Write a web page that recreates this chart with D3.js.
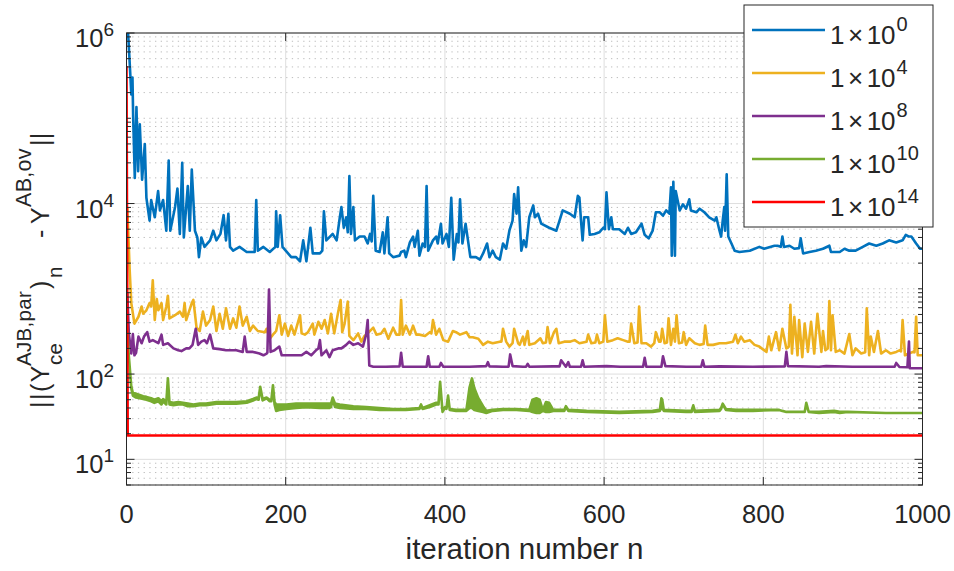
<!DOCTYPE html>
<html>
<head>
<meta charset="utf-8">
<script src="https://cdn.jsdelivr.net/npm/d3@7"></script>
<style>
  html, body { margin: 0; padding: 0; background: #fff; }
  text { font-family: "Liberation Sans", Arial, Helvetica, sans-serif; fill: #262626; }
</style>
</head>
<body>
<div id="chart"></div>
<script>
// values: [iteration n, norm]
const blue = [[1,1e6],[2,1e6],[5,3.0e5],[6,1.9e5],[7.5,3.0e5],[8.4,1.02e5],[10.4,2.0e4],[12.5,1.35e5],[14.6,2.4e4],[16.7,8.5e4],[19.6,1.9e4],[23,5.0e4],[25,1.17e4],[29,6.3e3],[31,1.1e4],[35.5,6.9e3],[39.7,1.4e4],[42,8.3e3],[46,1.1e4],[50,4.8e3],[53,3.2e4],[55,4.8e3],[61,9.1e3],[64,1.5e4],[67,4.4e3],[70,3.0e4],[72,4.0e3],[77,1.6e4],[79.5,4.8e3],[82,2.5e4],[86,4.8e3],[89,4.0e3],[91,2.35e3],[94,4.0e3],[98,3.1e3],[105,3.7e3],[109,4.8e3],[113,3.7e3],[118,4.4e3],[122,7.3e3],[125,3.7e3],[128,7.6e3],[130,3.1e3],[134,2.8e3],[142,3.1e3],[151,2.7e3],[161,2.7e3],[163,1.1e4],[165,2.8e3],[172,3.1e3],[180,2.7e3],[187,3.1e3],[188,8.1e3],[190,3.1e3],[193,7.3e3],[196,3.1e3],[207,2.35e3],[213,2.35e3],[218,2.1e3],[222,3.7e3],[226,2.1e3],[231,5.2e3],[234,2.6e3],[243,2.6e3],[246,2.8e3],[248,8.1e3],[251,3.7e3],[259,4.4e3],[264,3.7e3],[268,6.9e3],[270,9.1e3],[273,5.2e3],[276,6.9e3],[278,4.6e3],[280,2.1e4],[282,4.4e3],[285,9.1e3],[287,3.7e3],[293,4.1e3],[299,4.1e3],[303,3.4e3],[306,4.4e3],[308,3.6e3],[310,1.23e4],[313,2.8e3],[318,2.7e3],
  [322,4.6e3],[324,2.6e3],[328,6.9e3],[330,2.6e3],[335,2.35e3],[343,2.45e3],[345,2.7e3],[349,2.8e3],[351,2.35e3],[356,3.5e3],[360,4.1e3],[362,3.1e3],[366,4.8e3],[368,2.45e3],[372,3.4e3],[375,3.1e3],[377,1.6e4],[379,2.8e3],[385,3.7e3],[389,4.1e3],[391,3.4e3],[395,5.8e3],[397,3.4e3],[402,4.4e3],[405,3.1e3],[408,1.17e4],[411,2.2e3],[415,4.4e3],[417,3.5e3],[419,1.12e4],[422,3.4e3],[426,5.8e3],[429,3.7e3],[432,2.35e3],[439,2.35e3],[444,2.2e3],[448,2.6e3],[453,3.4e3],[456,2.35e3],[460,2.8e3],[464,2.35e3],[469,2.2e3],[473,3.4e3],[477,2.95e3],[481,4.8e3],[485,6.3e3],[487,1.29e4],[490,7.6e3],[492,1.55e4],[494,6.3e3],[496,2.8e3],[499,3.7e3],[502,3.1e3],[506,6.9e3],[511,9.5e3],[513,6.9e3],[517,7.6e3],[521,5.8e3],[531,5.2e3],[540,4.8e3],[544,6.3e3],[548,8.3e3],[557,7.6e3],[563,6.9e3],[567,1.23e4],[569,1.17e4],[571,6.3e3],[573,3.7e3],[575,6.9e3],[580,6.9e3],[582,4.3e3],[588,4.4e3],[594,4.6e3],[599,5.2e3],[601,5.0e3],[603,1.35e4],[606,5.0e3],[609,6.9e3],[611,5.0e3],[619,5.0e3],[626,4.4e3],[630,5.2e3],[634,4.4e3],[640,4.6e3],[647,5.8e3],[651,4.3e3],[656,3.9e3],[661,4.8e3],[665,7.9e3],[670,7.9e3],
  [674,7.2e3],[678,8.3e3],[682,7.6e3],[684,1.55e4],[685,2.45e3],[687,1.8e4],[689,2.45e3],[690,1.4e4],[695,8.3e3],[699,9.8e3],[703,8.7e3],[707,1.12e4],[709,8.3e3],[716,7.9e3],[720,8.7e3],[726,7.9e3],[732,6.9e3],[739,6.3e3],[741,6.9e3],[745,4.8e3],[747,4.1e3],[749,6.3e3],[751,9.1e3],[752,4.8e3],[754,2.2e4],[756,4.1e3],[760,3.4e3],[764,2.8e3],[770,2.7e3],[783,2.8e3],[795,3.1e3],[801,2.95e3],[814,3.2e3],[818,3.2e3],[822,3.1e3],[824,4.1e3],[826,3.1e3],[833,3.2e3],[839,2.95e3],[845,3.0e3],[847,3.9e3],[850,2.6e3],[858,2.7e3],[866,2.8e3],[875,2.95e3],[883,3.2e3],[885,2.7e3],[896,2.7e3],[902,2.95e3],[908,2.8e3],[916,2.8e3],[925,3.1e3],[933,3.4e3],[942,3.2e3],[950,3.4e3],[958,3.7e3],[967,3.5e3],[975,3.7e3],[979,4.3e3],[983,4.1e3],[986,4.1e3],[992,3.4e3],[997,2.95e3],[1000,2.95e3]];

const orange = [[1,9e3],[4,1650],[6,680],[10,390],[15,470],[19,620],[21,510],[25,560],[29,680],[31,620],[33,1260],[35.5,430],[38,760],[40,560],[44,680],[46,430],[50,620],[52,830],[54,450],[61,490],[67,540],[71,470],[73,680],[75,430],[82,680],[84,740],[88,350],[92,320],[96,540],[100,370],[105,430],[109,620],[113,320],[117,510],[121,340],[125,590],[130,340],[134,450],[138,350],[142,620],[146,370],[151,470],[155,320],[159,370],[165,320],[174,310],[176,340],[180,260],[184,290],[188,320],[192,490],[195,290],[199,390],[203,280],[207,370],[211,290],[218,490],[220,300],[224,290],[228,310],[234,390],[236,290],[241,410],[245,340],[249,430],[253,300],[257,510],[261,300],[266,540],[269,740],[271,310],[274,390],[278,710],[280,280],[285,250],[291,300],[295,240],[299,280],[303,300],[310,350],[314,290],[320,300],[324,340],[329,260],[335,350],[339,290],[343,290],[345,740],[347,290],[351,370],[356,290],[360,370],[364,290],[368,290],[375,280],[381,310],[383,300],[385,430],[389,290],[393,340],[398,250],[404,240],[410,320],[414,310],[419,290],[427,310],[431,270],[435,270],[442,260],[448,220],[454,240],[460,230],[469,240],[471,240],[473,340],[477,240],[481,210],[485,230],[487,340],[492,230],
  [494,220],[498,275],[500,220],[504,320],[506,220],[513,230],[520,263],[523,230],[527,235],[529,355],[532,230],[537,310],[540,340],[543,230],[550,240],[557,240],[563,250],[569,230],[578,240],[580,290],[584,230],[589,235],[591,290],[594,230],[599,240],[601,490],[604,240],[611,250],[617,263],[624,250],[630,240],[632,240],[634,390],[638,230],[642,235],[644,620],[647,230],[653,230],[659,210],[663,230],[665,310],[669,240],[671,240],[673,340],[676,230],[679,235],[681,450],[684,220],[687,340],[689,240],[691,490],[694,230],[698,235],[700,310],[703,220],[707,263],[714,230],[720,220],[725,225],[727,370],[730,220],[737,220],[745,230],[753,230],[762,240],[765,290],[768,230],[772,275],[776,240],[783,250],[789,220],[795,210],[804,182],[807,275],[810,190],[816,310],[820,190],[824,340],[829,200],[832,210],[834,650],[836,174],[839,470],[843,166],[845,430],[849,158],[852,390],[856,182],[860,410],[864,174],[868,510],[873,182],[875,320],[878,190],[881,200],[883,720],[885,190],[887,490],[891,182],[896,190],[902,174],[908,295],[912,166],[916,200],[923,174],[928,180],[930,590],[933,166],[935,275],[939,182],[944,320],[948,174],[954,190],[960,174],[967,182],[971,190],[973,185],[975,430],[978,166],[983,174],[988,182],[990,180],[992,470],[994,166],[998,166],[1000,166]];

const purple = [[1,900],[3,295],[6,174],[8,295],[10,166],[12,178],[15,275],[19,230],[22,275],[26,310],[29,240],[33,250],[40,230],[44,290],[46,220],[52,230],[59,200],[65,190],[69,186],[75,200],[79,200],[83,220],[87,340],[90,220],[94,240],[98,250],[101,230],[105,290],[109,200],[117,196],[125,190],[138,190],[146,182],[148.5,275],[151,182],[159,182],[167,174],[172,166],[176,174],[177,178],[179,980],[181,182],[186,190],[192,210],[195,166],[201,166],[209,166],[220,166],[226,182],[232,166],[238,190],[241,200],[243,250],[245,166],[251,190],[255,158],[259,190],[266,200],[270,200],[276,220],[280,240],[285,220],[291,230],[297,210],[301,290],[303,430],[305,126],[310,122],[318,122],[326,122],[343,123],[345,178],[347,122],[360,122],[375,122],[377,122],[379,162],[381,122],[393,122],[395,135],[398,122],[410,122],[431,122],[452,124],[454,138],[456,123],[473,122],[480,122],[482,170],[485,124],[498,122],[502,122],[504,132],[506,122],[536,123],[544,123],[546,145],[552,122],[555,138],[557,122],[571,122],[573,145],[575,122],[603,124],[620,122],[649,122],[651,155],[653,122],[672,122],[674,162],[677,124],[703,122],[722,122],[724,145],[726,122],[745,123],[787,122],[827,123],[829,182],[831,124],[870,122],[879,124],[912,122],[965,122],[967,135],[971,121],[981,120],[983,240],[984,117],[1000,117]];

// green is a fast oscillation: [n, lower edge, upper edge]
const green = [[0,420,420],[3,160,160],[6,68,72],[8,56,60],[12,53,59],[21,51,55],[25,50,54],[31,48,52],[35,46,50],[40,48,52],[44,44,48],[46,48,51],[50,44,47],[52,88,89],[54,44,47],[59,43,46],[65,44,47],[71,44,46],[77,42,45],[84,42,44],[92,43,45],[100,43,45],[113,45,47],[125,45,47],[138,45,47],[151,46,48],[159,49,51],[163,51,53],[166,50,52],[168,70,71],[171,49,51],[176,52,53],[180,48,50],[182,48,50],[184,74,74],[186,44,47],[188,37,44],[192,38,44],[201,39,44],[213,40,45],[226,41,45],[243,40,45],[255,40,45],[257,41,45],[259,50,53],[262,41,45],[268,40,44],[285,39,42],[301,39,41],[318,38,40],[335,38,39],[351,38,39],[368,39,40],[370,43,44],[372,39,40],[381,41,43],[389,44,46],[392,44,46],[394,81,81],[397,36,37],[400,40,41],[402,39,40],[404,56,56],[406,38,39],[414,37,38],[427,37,38],[431,40,70],[434,40,89],[437,38,68],[442,37,52],[448,36,42],[452,35,37],[460,37,38],[473,38,39],[490,38,39],[506,37,38],[510,36,50],[515,35,52],[519,35,50],[523,37,38],[527,36,47],[531,36,46],[536,37,38],[544,37,38],[550,37,38],[552,41,42],[555,37,38],[578,36,37],[619,35,36],[661,36,37],[670,37,38],[672,40,52],[673,40,50],[675,37,38],[703,36,37],[710,36,37],[712,42,43],[714,36,37],[745,37,38],[747,39,40],[749,44,45],[753,38,39],[766,37,38],[787,37,38],[820,38,38],[824,37,37],[829,36,36],[852,36,36],[854,45,46],[857,36,36],[870,35,36],[889,36,37],[896,35,36],[906,36,36],[954,35,35],[1000,35,35]];

const red = [[0,4.1e5],[1.5,19],[1000,19]];

const xTicks = [0, 200, 400, 600, 800, 1000];
const yTicks = [1e1, 1e2, 1e4, 1e6];
const yTickExp = ["1", "2", "4", "6"];
const legendExp = ["0", "4", "8", "10", "14"];
const colors = ["#0072BD", "#EDB120", "#7E2F8E", "#77AC30", "#FF0000"];

const W = 954, H = 571;
const pLeft = 126.5, pRight = 922.5, pTop = 33, pBottom = 485;

const svg = d3.select("#chart").append("svg")
    .attr("width", W).attr("height", H);
svg.append("rect").attr("width", W).attr("height", H).attr("fill", "#fff");

let x = d3.scaleLinear().domain([0, 1000]).range([pLeft, pRight]);
let y = d3.scaleLog().domain([5, 1e6]).range([pBottom, pTop]);

// minor grid (dotted) on y
let minor = [];
for (let e = 0; e <= 5; e++) {
    for (let m = 1; m <= 9; m++) {
        let v = m * Math.pow(10, e);
        if (v < 5 || v > 1e6) continue;
        if (yTicks.indexOf(v) >= 0) continue;
        minor.push(v);
    }
}
svg.append("g").selectAll("line").data(minor).join("line")
    .attr("x1", pLeft).attr("x2", pRight)
    .attr("y1", d => y(d)).attr("y2", d => y(d))
    .attr("stroke", "#bdbdbd").attr("stroke-width", 1)
    .attr("stroke-dasharray", "1.3,4.4");

// major grid
svg.append("g").selectAll("line").data(yTicks).join("line")
    .attr("x1", pLeft).attr("x2", pRight)
    .attr("y1", d => y(d)).attr("y2", d => y(d))
    .attr("stroke", "#dedede").attr("stroke-width", 1);
svg.append("g").selectAll("line").data(xTicks).join("line")
    .attr("x1", d => x(d)).attr("x2", d => x(d))
    .attr("y1", pTop).attr("y2", pBottom)
    .attr("stroke", "#dedede").attr("stroke-width", 1);

// data
svg.append("clipPath").attr("id", "plotclip").append("rect")
    .attr("x", pLeft).attr("y", pTop).attr("width", pRight - pLeft).attr("height", pBottom - pTop);
let plot = svg.append("g").attr("clip-path", "url(#plotclip)");

let line = d3.line().x(d => x(d[0])).y(d => y(d[1]));
let lw = 2.6;

plot.append("path").attr("d", line(blue)).attr("fill", "none")
    .attr("stroke", colors[0]).attr("stroke-width", lw).attr("stroke-linejoin", "round");
plot.append("path").attr("d", line(orange)).attr("fill", "none")
    .attr("stroke", colors[1]).attr("stroke-width", lw).attr("stroke-linejoin", "round");
plot.append("path").attr("d", line(purple)).attr("fill", "none")
    .attr("stroke", colors[2]).attr("stroke-width", lw).attr("stroke-linejoin", "round");

let band = d3.area().x(d => x(d[0])).y0(d => y(d[1])).y1(d => y(d[2]));
plot.append("path").attr("d", band(green))
    .attr("fill", colors[3]).attr("stroke", colors[3])
    .attr("stroke-width", lw).attr("stroke-linejoin", "round");

plot.append("path").attr("d", line(red)).attr("fill", "none")
    .attr("stroke", colors[4]).attr("stroke-width", lw).attr("stroke-linejoin", "round");

// ticks (inward, mirrored)
let axisColor = "#262626";
let tk = svg.append("g").attr("stroke", axisColor).attr("stroke-width", 1);
xTicks.forEach(t => {
    tk.append("line").attr("x1", x(t)).attr("x2", x(t)).attr("y1", pBottom).attr("y2", pBottom - 8);
    tk.append("line").attr("x1", x(t)).attr("x2", x(t)).attr("y1", pTop).attr("y2", pTop + 8);
});
yTicks.forEach(t => {
    tk.append("line").attr("x1", pLeft).attr("x2", pLeft + 8).attr("y1", y(t)).attr("y2", y(t));
    tk.append("line").attr("x1", pRight).attr("x2", pRight - 8).attr("y1", y(t)).attr("y2", y(t));
});
minor.forEach(t => {
    tk.append("line").attr("x1", pLeft).attr("x2", pLeft + 4.5).attr("y1", y(t)).attr("y2", y(t));
    tk.append("line").attr("x1", pRight).attr("x2", pRight - 4.5).attr("y1", y(t)).attr("y2", y(t));
});

// box
svg.append("rect").attr("x", pLeft).attr("y", pTop)
    .attr("width", pRight - pLeft).attr("height", pBottom - pTop)
    .attr("fill", "none").attr("stroke", axisColor).attr("stroke-width", 1);

// tick labels
svg.append("g").selectAll("text").data(xTicks).join("text")
    .attr("x", d => x(d)).attr("y", pBottom + 38)
    .attr("text-anchor", "middle").attr("font-size", 25.5)
    .text(d => d);

yTicks.forEach((t, i) => {
    let tx = svg.append("text").attr("x", 114).attr("y", y(t) + 14)
        .attr("text-anchor", "end").attr("font-size", 25.5);
    tx.append("tspan").text("10");
    tx.append("tspan").attr("dy", -11).attr("font-size", 19).text(yTickExp[i]);
});

// x label
svg.append("text").attr("x", (pLeft + pRight) / 2).attr("y", 559)
    .attr("text-anchor", "middle").attr("font-size", 29.5)
    .text("iteration number n");

// y label: pieces placed along the rotated baseline
// [text, font size, offset along label, baseline shift]
let ylPieces = [
    ["||(Y", 25, 0, 0], ["AJB,par", 20.5, 42, -18], ["ce", 20.5, 43, 13],
    [")", 25, 119, 0], ["n", 20.5, 130, 13],
    ["-", 25, 170, 0], ["Y", 25, 184, 0], ["AB,ov", 21.5, 201, -18], ["||", 25, 262, 0]
];
let yl = svg.append("g").attr("transform", "translate(48.5,408) rotate(-90)");
ylPieces.forEach(p => {
    yl.append("text").attr("x", p[2]).attr("y", p[3])
        .attr("font-size", p[1]).attr("letter-spacing", p[0] === "||(Y" ? 1.5 : 0.3)
        .text(p[0]);
});

// legend
let lg = svg.append("g");
lg.append("rect").attr("x", 744).attr("y", 5).attr("width", 189).attr("height", 222)
    .attr("fill", "#fff").attr("stroke", axisColor).attr("stroke-width", 1);
let rowY = [30, 73, 116, 159, 202];
legendExp.forEach((e, i) => {
    lg.append("line").attr("x1", 752).attr("x2", 825)
        .attr("y1", rowY[i]).attr("y2", rowY[i])
        .attr("stroke", colors[i]).attr("stroke-width", lw);
    let t = lg.append("text").attr("x", 830).attr("y", rowY[i] + 14)
        .attr("font-size", 26);
    t.append("tspan").text("1");
    t.append("tspan").attr("dx", 3.5).text("\u00d7");
    t.append("tspan").attr("dx", 3.5).text("10");
    t.append("tspan").attr("dx", 1).attr("dy", -13).attr("font-size", 20).text(e);
});
</script>
</body>
</html>
